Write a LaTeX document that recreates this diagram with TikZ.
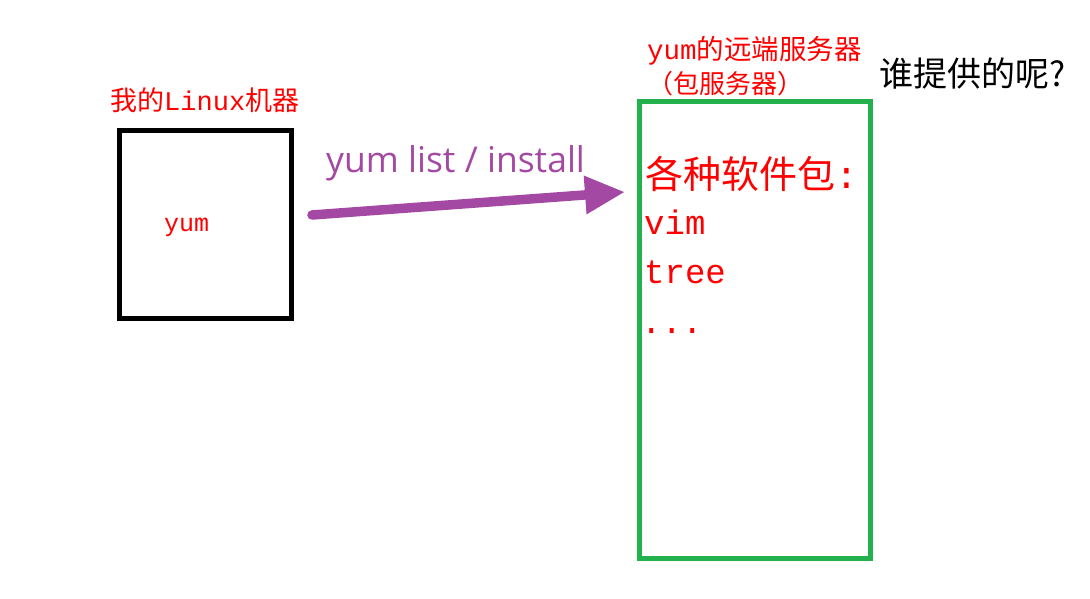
\documentclass[tikz,border=0pt]{standalone}
\usepackage{fontspec}
\usetikzlibrary{arrows.meta}
\newfontfamily\cjk{Noto Sans CJK SC}
\newfontfamily\mn{Liberation Mono}
\newfontfamily\ui{Open Sans}
\definecolor{boxgreen}{HTML}{22B14C}
\definecolor{arrowpurple}{HTML}{A349A4}
\definecolor{labelred}{HTML}{FF0000}
\newcommand{\fs}[1]{\fontsize{#1pt}{#1pt}\selectfont}
\begin{document}
\begin{tikzpicture}[x=1pt,y=-1pt,
  boxstyle/.style={draw, line width=5pt, inner sep=0pt, minimum width=#1},
  redtext/.style={text=labelred, inner sep=0pt, anchor=base west},
  ]
\useasboundingbox (0,0) rectangle (1090,598);
% boxes
\node[boxstyle=172pt, minimum height=188pt] (linux) at (205.5,224.5) {};
\node[boxstyle=231pt, minimum height=457pt, draw=boxgreen] (server) at (755,330) {};
% labels
\node[redtext] (linuxlabel) at (110,110) {\fs{27}\cjk 我的{\mn Linux}机器};
\node[redtext] (yumin) at (164,231) {\fs{25}\mn yum};
\node[redtext] (srvlabel1) at (647,59) {\fs{27.5}\cjk{\mn yum}的远端服务器};
\node[redtext] (srvlabel2) at (647,93) {\fs{26}\cjk （包服务器）};
\node[inner sep=0pt, anchor=base west] (who) at (879,86) {\fs{34}\cjk 谁提供的呢?};
\node[redtext] (pkgs) at (645,188) {\fs{38}\cjk 各种软件包{\mn :}};
\node[redtext] (vim) at (644,234) {\fs{34}\mn vim};
\node[redtext] (tree) at (644,283) {\fs{34}\mn tree};
\node[redtext] (dots) at (641,333) {\fs{34}\mn ...};
% arrow
\coordinate (astart) at (312,215);
\coordinate (aend) at (625,192);
\draw[arrowpurple, line width=9.5pt, line cap=round, -{Triangle[length=40pt,width=36pt]}] (astart) -- (aend);
\node[text=arrowpurple, inner sep=0pt, anchor=base west] (cmd) at (326,172) {\fs{35.5}\ui yum list / install};
\end{tikzpicture}
\end{document}
